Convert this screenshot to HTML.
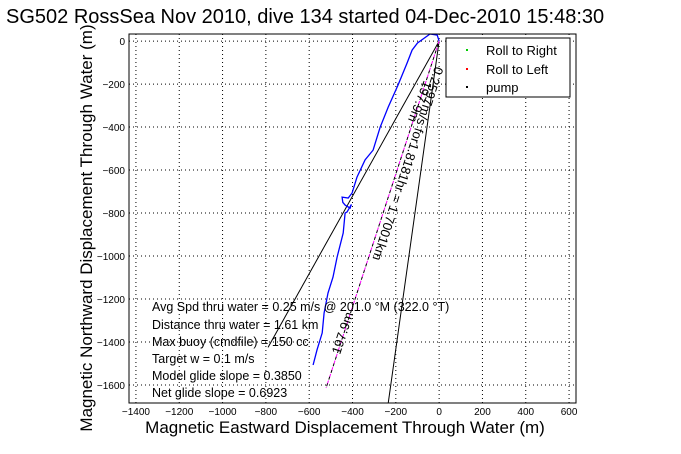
<!DOCTYPE html>
<html><head><meta charset="utf-8"><style>
html,body{margin:0;padding:0;background:#fff;}
svg{display:block;font-family:"Liberation Sans",sans-serif;}
</style></head><body>
<svg width="681" height="454" viewBox="0 0 681 454" xmlns="http://www.w3.org/2000/svg">
<g id="grid"></g>
<g id="marks"></g>
<rect x="129" y="34" width="447" height="369" fill="none" stroke="#000" stroke-width="1"/>
<g id="ticks" font-size="10"></g>
<text x="6" y="23" font-size="20">SG502 RossSea Nov 2010, dive 134 started 04-Dec-2010 15:48:30</text>
<text x="345" y="433" font-size="17" text-anchor="middle">Magnetic Eastward Displacement Through Water (m)</text>
<text transform="translate(92,228) rotate(-90)" font-size="17" text-anchor="middle">Magnetic Northward Displacement Through Water (m)</text>
<g>
<rect x="446" y="38" width="124" height="59" fill="#fff" stroke="#000"/>
<rect x="466" y="49" width="2" height="2" fill="#0c0"/>
<text x="486" y="55" font-size="13">Roll to Right</text>
<rect x="466" y="68" width="2" height="2" fill="#f00"/>
<text x="486" y="74" font-size="13">Roll to Left</text>
<rect x="466" y="86" width="2" height="2" fill="#000"/>
<text x="486" y="92" font-size="13">pump</text>
</g>
<g font-size="12.5">
<text x="152" y="311">Avg Spd thru water =  0.25 m/s @ 201.0  °M (322.0 °T)</text>
<text x="152" y="329">Distance thru water =  1.61 km</text>
<text x="152" y="346">Max buoy (cmdfile) = 150 cc</text>
<text x="152" y="363">Target w = 0.1 m/s</text>
<text x="152" y="380">Model glide slope = 0.3850</text>
<text x="152" y="397">Net glide slope = 0.6923</text>
</g>
<text transform="translate(435,66) rotate(108)" font-size="13">0.2597m/s for1.8181hr = 1.7001km</text>
<text transform="translate(424,80) rotate(112)" font-size="13">197.9m</text>
<text transform="translate(340,355) rotate(-72)" font-size="13">197.9m</text>
<script>
const xTicks=[-1400,-1200,-1000,-800,-600,-400,-200,0,200,400,600];
const yTicks=[0,-200,-400,-600,-800,-1000,-1200,-1400,-1600];
const trackE=[0,-9,-42,-100,-125,-148,-190,-235,-272,-305,-342,-379,-402,-420,-448,-445,-434,-411,-405,-425,-434,-443,-471,-490,-513,-531,-540,-564,-582];
const trackN=[0,28,33,-9,-42,-102,-205,-307,-400,-507,-553,-633,-707,-730,-726,-750,-763,-777,-760,-795,-800,-893,-1005,-1098,-1172,-1265,-1358,-1437,-1507];
const lineA=[[0,0],[-790,-1425]];
const lineB=[[0,0],[-235,-1684]];
const lineC=[[0,0],[-522,-1614]];
const X0=129,X1=576,Y0=34,Y1=403,XMIN=-1432,XMAX=632,YMIN=-1684,YMAX=33;
function sx(v){return X0+(v-XMIN)/(XMAX-XMIN)*(X1-X0);}
function sy(v){return Y1-(v-YMIN)/(YMAX-YMIN)*(Y1-Y0);}
const NS='http://www.w3.org/2000/svg';
function mk(t,a,p){const e=document.createElementNS(NS,t);for(const k in a)e.setAttribute(k,a[k]);p.appendChild(e);return e;}
const grid=document.getElementById('grid'),ticks=document.getElementById('ticks'),marks=document.getElementById('marks');
xTicks.forEach(v=>{const x=sx(v);
const g=mk('line',{x1:x,x2:x,y1:Y0,y2:Y1,stroke:'#000','stroke-dasharray':'1,3','stroke-width':1},grid);


const t=mk('text',{x:x,y:Y1+12,'text-anchor':'middle'},ticks);t.textContent=String(v).replace('-','\u2212');

});
yTicks.forEach(v=>{const y=sy(v);
const g=mk('line',{x1:X0,x2:X1,y1:y,y2:y,stroke:'#000','stroke-dasharray':'1,3','stroke-width':1},grid);


const t=mk('text',{x:X0-4,y:y+4,'text-anchor':'end'},ticks);t.textContent=String(v).replace('-','\u2212');

});
function seg(pts,attrs,name){const l=mk('line',Object.assign({x1:sx(pts[0][0]),y1:sy(pts[0][1]),x2:sx(pts[1][0]),y2:sy(pts[1][1])},attrs),marks);

}
seg(lineA,{stroke:'#000','stroke-width':1},'drift-line');
seg(lineB,{stroke:'#000','stroke-width':1},'current-bound-line');
seg(lineC,{stroke:'#f0f','stroke-width':1,'stroke-dasharray':'4,3'},'current-line');
seg(lineC,{stroke:'#000','stroke-width':1,'stroke-dasharray':'3,4','stroke-dashoffset':'4'},'current-line-black');
const d=trackE.map((e,i)=>(i?'L':'M')+sx(e).toFixed(1)+','+sy(trackN[i]).toFixed(1)).join(' ');
const p=mk('path',{d:d,fill:'none',stroke:'#00f','stroke-width':1.3},marks);


</script>
</svg>
</body></html>
